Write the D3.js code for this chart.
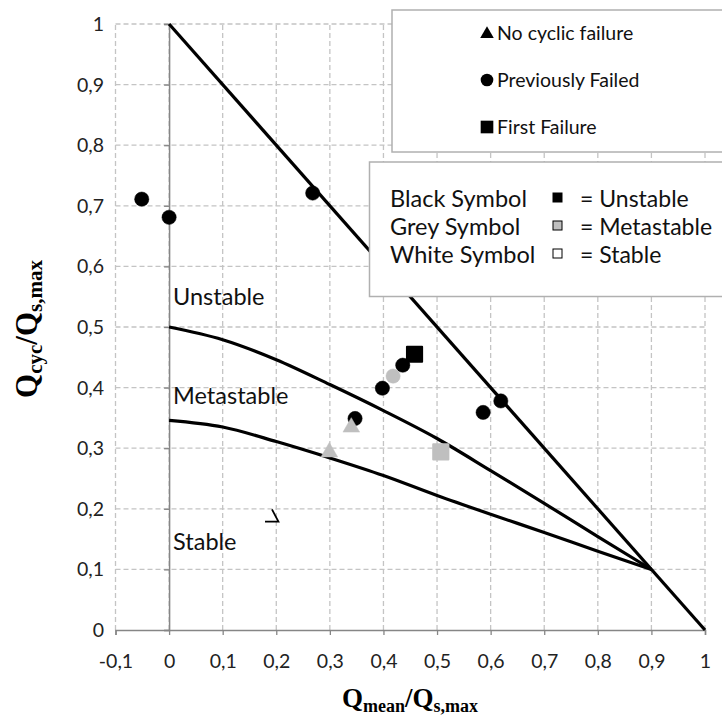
<!DOCTYPE html>
<html><head><meta charset="utf-8">
<script src="https://cdn.jsdelivr.net/npm/d3@7"></script>
<style>body{margin:0;background:#fff}svg{display:block}</style>
</head><body>
<script>
// ---- data ----
const xTickValues = [-0.1,0,0.1,0.2,0.3,0.4,0.5,0.6,0.7,0.8,0.9,1];
const xTickLabels = ["-0,1","0","0,1","0,2","0,3","0,4","0,5","0,6","0,7","0,8","0,9","1"];
const yTickValues = [0,0.1,0.2,0.3,0.4,0.5,0.6,0.7,0.8,0.9,1];
const yTickLabels = ["0","0,1","0,2","0,3","0,4","0,5","0,6","0,7","0,8","0,9","1"];

// boundary lines
const failureLineX = [0, 1];
const failureLineY = [1, 0];
const upperCurveX = [0, 0.1, 0.2, 0.3, 0.4, 0.5, 0.6, 0.7, 0.8, 0.9];
const upperCurveY = [0.5, 0.479, 0.446, 0.405, 0.362, 0.316, 0.263, 0.209, 0.154, 0.1];
const lowerCurveX = [0, 0.1, 0.2, 0.3, 0.4, 0.5, 0.6, 0.7, 0.8, 0.9];
const lowerCurveY = [0.346, 0.335, 0.311, 0.284, 0.255, 0.222, 0.191, 0.161, 0.13, 0.1];
const strayMarkX = [0.179, 0.204, 0.192];
const strayMarkY = [0.179, 0.179, 0.199];

// test points
const pointX     = [-0.051, 0, 0.268, 0.347, 0.398, 0.436, 0.586, 0.619, 0.418, 0.458, 0.507, 0.299, 0.34];
const pointY     = [0.711, 0.681, 0.721, 0.349, 0.399, 0.437, 0.359, 0.378, 0.419, 0.455, 0.294, 0.296, 0.337];
const pointShape = ["circle","circle","circle","circle","circle","circle","circle","circle","circle","square","square","triangle","triangle"];
const pointState = ["Unstable","Unstable","Unstable","Unstable","Unstable","Unstable","Unstable","Unstable","Metastable","Unstable","Metastable","Metastable","Metastable"];

const regionLabels = ["Unstable","Metastable","Stable"];
const regionLabelY = [0.536, 0.373, 0.132];
const shapeLegend = [["triangle","No cyclic failure"],["circle","Previously Failed"],["square","First Failure"]];
const stateLegend = [["Black Symbol","Unstable"],["Grey Symbol","Metastable"],["White Symbol","Stable"]];
const stateColor = {Unstable:"#000", Metastable:"#bfbfbf", Stable:"#fff"};

// ---- drawing ----
const W = 722, H = 722;
const svg = d3.select("body").append("svg").attr("width", W).attr("height", H);
const x = d3.scaleLinear().domain([-0.1, 1]).range([115.5, 705]);
const y = d3.scaleLinear().domain([0, 1]).range([630, 24]);
const font = "Lato, 'Open Sans', sans-serif";

// grid
const grid = svg.append("g").attr("stroke", "#c4c4c4").attr("stroke-width", 1.3).attr("stroke-dasharray", "5,3");
grid.selectAll("line.v").data(xTickValues).join("line")
  .attr("x1", d => x(d)).attr("x2", d => x(d)).attr("y1", y(0)).attr("y2", y(1));
grid.selectAll("line.h").data(yTickValues.filter(d => d > 0)).join("line")
  .attr("x1", x(-0.1)).attr("x2", x(1)).attr("y1", d => y(d)).attr("y2", d => y(d));

// x axis at y=0
const xAxis = d3.axisBottom(x).tickValues(xTickValues).tickSize(5).tickFormat((d, i) => xTickLabels[i]);
const gx = svg.append("g").attr("transform", `translate(0,${y(0)})`).call(xAxis);
gx.select(".domain").attr("stroke", "#868686").attr("stroke-width", 1.5);
gx.selectAll(".tick line").attr("stroke", "#868686").attr("stroke-width", 1.3);
gx.selectAll(".tick text").attr("font-family", font).attr("font-size", 19.5).attr("fill", "#222")
  .attr("y", 0).attr("dy", 38);

// y axis at x=0
const yAxis = d3.axisLeft(y).tickValues(yTickValues).tickSize(5).tickFormat((d, i) => yTickLabels[i]);
const gy = svg.append("g").attr("transform", `translate(${x(0)},0)`).call(yAxis);
gy.select(".domain").attr("stroke", "#868686").attr("stroke-width", 1.5);
gy.selectAll(".tick line").attr("stroke", "#868686").attr("stroke-width", 1.3);
gy.selectAll(".tick text").remove();
// y tick labels at left edge
svg.append("g").selectAll("text").data(yTickValues).join("text")
  .attr("x", 104).attr("y", d => y(d)).attr("dy", "0.36em").attr("text-anchor", "end")
  .attr("font-family", font).attr("font-size", 19.5).attr("fill", "#222")
  .text((d, i) => yTickLabels[i]);

// curves
const line = d3.line().x(d => x(d[0])).y(d => y(d[1]));
const curve = d3.line().x(d => x(d[0])).y(d => y(d[1])).curve(d3.curveMonotoneX);
const lines = svg.append("g").attr("fill", "none").attr("stroke", "#000").attr("stroke-width", 3.2).attr("stroke-linejoin", "round");
lines.append("path").attr("d", line(failureLineX.map((v, i) => [v, failureLineY[i]])));
lines.append("path").attr("d", curve(upperCurveX.map((v, i) => [v, upperCurveY[i]])));
lines.append("path").attr("d", curve(lowerCurveX.map((v, i) => [v, lowerCurveY[i]])));
svg.append("path").attr("fill", "none").attr("stroke", "#000").attr("stroke-width", 1.8)
  .attr("d", line(strayMarkX.map((v, i) => [v, strayMarkY[i]])));

// region labels
svg.append("g").selectAll("text").data(regionLabels).join("text")
  .attr("x", x(0) + 4).attr("y", (d, i) => y(regionLabelY[i]))
  .attr("font-family", font).attr("font-size", 23.5).attr("fill", "#111").text(d => d);

// symbols
function symbolPath(shape, size) {
  const t = shape === "circle" ? d3.symbolCircle : shape === "square" ? d3.symbolSquare : d3.symbolTriangle;
  return d3.symbol().type(t).size(size)();
}
const symSize = {circle: 160, square: 230, triangle: 120};
svg.append("g").selectAll("path").data(pointX.map((v, i) => i)).join("path")
  .attr("transform", i => `translate(${x(pointX[i])},${y(pointY[i]) + (pointShape[i] === "triangle" ? 1.5 : 0)})`)
  .attr("d", i => symbolPath(pointShape[i], symSize[pointShape[i]]))
  .attr("fill", i => stateColor[pointState[i]])
  .attr("stroke", i => stateColor[pointState[i]])
  .attr("stroke-width", i => pointShape[i] === "square" ? 2 : 0.5)
  .attr("stroke-linejoin", "round");

// legend 1
const lg1 = svg.append("g");
lg1.append("rect").attr("x", 392).attr("y", 10).attr("width", 340).attr("height", 142)
  .attr("fill", "#fff").attr("stroke", "#b0b0b0").attr("stroke-width", 1.5);
const lg1Rows = lg1.selectAll("g").data(shapeLegend).join("g")
  .attr("transform", (d, i) => `translate(487,${33 + i * 47})`);
lg1Rows.append("path").attr("d", d => symbolPath(d[0], d[0] === "circle" ? 125 : d[0] === "square" ? 160 : 80))
  .attr("fill", "#000").attr("transform", d => d[0] === "triangle" ? "translate(0,1)" : null);
lg1Rows.append("text").attr("x", 10).attr("dy", "0.36em").attr("font-family", font).attr("font-size", 19.5)
  .attr("fill", "#111").text(d => d[1]);

// legend 2
const lg2 = svg.append("g");
lg2.append("rect").attr("x", 369.5).attr("y", 162).attr("width", 360).attr("height", 134.5)
  .attr("fill", "#fff").attr("stroke", "#b0b0b0").attr("stroke-width", 1.5);
const lg2Rows = lg2.selectAll("g").data(stateLegend).join("g")
  .attr("transform", (d, i) => `translate(0,${207 + i * 28})`);
lg2Rows.append("text").attr("x", 390).attr("font-family", font).attr("font-size", 23.5)
  .attr("fill", "#111").text(d => d[0]);
lg2Rows.append("rect").attr("x", 553).attr("y", -14).attr("width", 9).attr("height", 9)
  .attr("fill", d => stateColor[d[1]]).attr("stroke", "#000").attr("stroke-width", 1);
lg2Rows.append("text").attr("x", 580).attr("font-family", font).attr("font-size", 23)
  .attr("fill", "#111").text(d => "= " + d[1]);

// axis titles
const tf = "'Liberation Serif', 'Times New Roman', serif";
const xt = svg.append("text").attr("x", 410).attr("y", 707).attr("text-anchor", "middle")
  .attr("font-family", tf).attr("font-weight", "bold").attr("font-size", 27).attr("fill", "#000");
xt.append("tspan").text("Q");
xt.append("tspan").attr("font-size", 18).attr("dy", 5).text("mean");
xt.append("tspan").attr("dy", -5).text("/Q");
xt.append("tspan").attr("font-size", 18).attr("dy", 5).text("s,max");

const yt = svg.append("text").attr("transform", "translate(37,329) rotate(-90)").attr("text-anchor", "middle")
  .attr("font-family", tf).attr("font-weight", "bold").attr("font-size", 31).attr("fill", "#000");
yt.append("tspan").text("Q");
yt.append("tspan").attr("font-size", 21).attr("dy", 5).text("cyc");
yt.append("tspan").attr("dy", -5).text("/Q");
yt.append("tspan").attr("font-size", 21).attr("dy", 5).text("s,max");
</script>
</body></html>
